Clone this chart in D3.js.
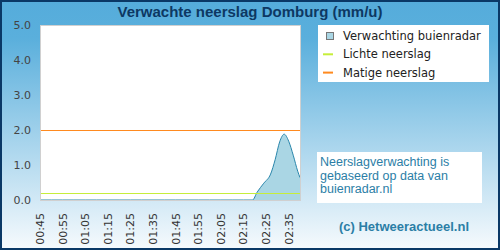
<!DOCTYPE html>
<html>
<head>
<meta charset="utf-8">
<script src="https://cdn.jsdelivr.net/npm/d3@7"></script>
<style>
  body { margin: 0; }
  svg { display: block; }
</style>
</head>
<body>
<div id="chart"></div>
<script>
// forecast times and values (mm/u)
var times = ["00:45","00:50","00:55","01:00","01:05","01:10","01:15","01:20","01:25","01:30",
  "01:35","01:40","01:45","01:50","01:55","02:00","02:05","02:10","02:15","02:19",
  "02:21","02:24","02:27","02:29","02:31","02:33","02:35","02:37","02:39","02:40"]
var values = [0,0,0,0,0,0,0,0,0,0,
  0,0,0,0,0,0,0,0,0,0,
  0.22,0.48,0.74,1.15,1.66,1.88,1.68,1.28,0.82,0.64]
var tickLabels = ["00:45","00:55","01:05","01:15","01:25","01:35","01:45","01:55","02:05","02:15","02:25","02:35"]
var yTicks = [0, 1, 2, 3, 4, 5]
var lichte = 0.2
var matige = 2.0

var width = 500
var height = 250
var parse = d3.timeParse("%H:%M")

var data = times.map((t, i) => ({ t: parse(t), v: values[i] }))

var svg = d3.select("#chart")
  .append("svg")
  .attr("width", width)
  .attr("height", height)

// background gradient
var grad = svg.append("defs").append("linearGradient")
  .attr("id", "bg")
  .attr("x1", 0).attr("y1", 0).attr("x2", 0).attr("y2", 1)
grad.append("stop").attr("offset", "0%").attr("stop-color", "#55acdb")
grad.append("stop").attr("offset", "15%").attr("stop-color", "#5aafdc")
grad.append("stop").attr("offset", "100%").attr("stop-color", "#f6fafd")

svg.append("rect")
  .attr("x", 1).attr("y", 1)
  .attr("width", width - 2).attr("height", height - 2)
  .attr("fill", "url(#bg)")
  .attr("stroke", "#0a3866")
  .attr("stroke-width", 2)

// title
svg.append("text")
  .attr("x", 250)
  .attr("y", 17)
  .attr("text-anchor", "middle")
  .style("font-family", "Liberation Sans, Arial, sans-serif")
  .style("font-weight", "bold")
  .style("font-size", "15px")
  .style("fill", "#0d3863")
  .text("Verwachte neerslag Domburg (mm/u)")

// scales
var x = d3.scaleTime()
  .domain([parse("00:45"), parse("02:40")])
  .range([40, 300])
var y = d3.scaleLinear()
  .domain([0, 5])
  .range([200, 25])

// plot area
svg.append("rect")
  .attr("x", 40).attr("y", 25)
  .attr("width", 260).attr("height", 175)
  .attr("fill", "#ffffff")

// area + line
var area = d3.area()
  .x(d => x(d.t))
  .y0(y(0))
  .y1(d => y(d.v))
  .curve(d3.curveMonotoneX)
var line = d3.line()
  .x(d => x(d.t))
  .y(d => y(d.v))
  .curve(d3.curveMonotoneX)

svg.append("path")
  .datum(data)
  .attr("d", area)
  .attr("fill", "#aad6e4")

svg.append("path")
  .datum(data)
  .attr("d", line)
  .attr("fill", "none")
  .attr("stroke", "#2a86ab")
  .attr("stroke-width", 1)

// threshold lines
svg.append("line")
  .attr("x1", 40).attr("x2", 300)
  .attr("y1", Math.round(y(lichte)) + 0.5).attr("y2", Math.round(y(lichte)) + 0.5)
  .attr("stroke", "#c6ee3a")
svg.append("line")
  .attr("x1", 40).attr("x2", 300)
  .attr("y1", y(matige) + 0.5).attr("y2", y(matige) + 0.5)
  .attr("stroke", "#ff8a1f")

// plot border
svg.append("rect")
  .attr("x", 40.5).attr("y", 25.5)
  .attr("width", 260).attr("height", 175)
  .attr("fill", "none")
  .attr("stroke", "#d0d0d0")

// y axis labels
svg.append("g")
  .selectAll("text")
  .data(yTicks)
  .enter().append("text")
  .attr("x", 31)
  .attr("y", d => y(d) + 4)
  .attr("text-anchor", "end")
  .style("font-family", "DejaVu Sans, sans-serif")
  .style("font-size", "11px")
  .style("fill", "#444")
  .text(d => d.toFixed(1))

// x axis labels (rotated)
svg.append("g")
  .selectAll("text")
  .data(tickLabels)
  .enter().append("text")
  .attr("transform", d => "translate(" + (x(parse(d)) + 4) + ",213) rotate(-90)")
  .attr("text-anchor", "end")
  .style("font-family", "DejaVu Sans, sans-serif")
  .style("font-size", "11px")
  .style("fill", "#333")
  .text(d => d)

// legend
var legend = svg.append("g")
svg.append("rect")
  .attr("x", 318).attr("y", 25)
  .attr("width", 171).attr("height", 57)
  .attr("fill", "#ffffff")

var items = [
  { name: "Verwachting buienradar", type: "box", color: "#aad6e4" },
  { name: "Lichte neerslag", type: "line", color: "#c6ee3a" },
  { name: "Matige neerslag", type: "line", color: "#ff8a1f" }
]
var row = svg.append("g").selectAll("g")
  .data(items)
  .enter().append("g")
  .attr("transform", (d, i) => "translate(0," + (36 + i * 18.3) + ")")

row.filter(d => d.type == "box").append("rect")
  .attr("x", 326.5).attr("y", -3.5)
  .attr("width", 7).attr("height", 7)
  .attr("fill", d => d.color)
  .attr("stroke", "#777")
row.filter(d => d.type == "line").append("rect")
  .attr("x", 323).attr("y", -1)
  .attr("width", 10).attr("height", 2)
  .attr("fill", d => d.color)
row.append("text")
  .attr("x", 343)
  .attr("y", 4)
  .style("font-family", "DejaVu Sans, sans-serif")
  .style("font-size", "11.5px")
  .style("fill", "#222")
  .text(d => d.name)

// info box
svg.append("rect")
  .attr("x", 317).attr("y", 152)
  .attr("width", 165).attr("height", 51)
  .attr("fill", "#ffffff")
var info = ["Neerslagverwachting is", "gebaseerd op data van", "buienradar.nl"]
svg.append("g").selectAll("text")
  .data(info)
  .enter().append("text")
  .attr("x", 320)
  .attr("y", (d, i) => 166 + i * 13.5)
  .style("font-family", "Liberation Sans, Arial, sans-serif")
  .style("font-size", "12.5px")
  .style("fill", "#2b7ea6")
  .text(d => d)

// credit
svg.append("text")
  .attr("x", 404)
  .attr("y", 231)
  .attr("text-anchor", "middle")
  .style("font-family", "Liberation Sans, Arial, sans-serif")
  .style("font-weight", "bold")
  .style("font-size", "13px")
  .style("fill", "#2b7ea6")
  .text("(c) Hetweeractueel.nl")
</script>
</body>
</html>
